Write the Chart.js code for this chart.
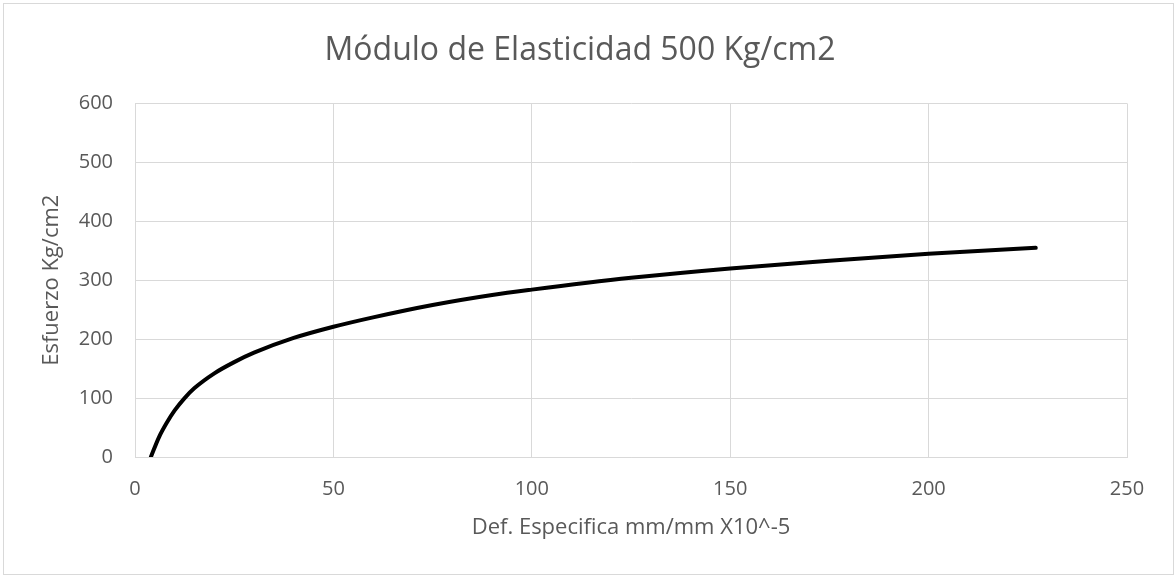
<!DOCTYPE html>
<html>
<head>
<meta charset="utf-8">
<title>Módulo de Elasticidad 500 Kg/cm2</title>
<script src="https://cdn.jsdelivr.net/npm/chart.js@4"></script>
<style>
  html, body { margin: 0; padding: 0; background: #fff; }
  #wrap { width: 1175px; height: 576px; position: relative; }
</style>
</head>
<body>
<div id="wrap"><canvas id="curva"></canvas></div>
<script>
// valores
const defEspecifica = [4, 6, 8, 10, 12.5, 15, 20, 25, 30, 40, 50, 60, 75, 90, 100, 125, 150, 175, 200, 227];
const esfuerzo = [0, 33, 58, 79, 100, 117, 142, 161, 177, 202, 221, 237, 258, 275, 284, 304, 320, 333, 345, 355];
const xTicks = [0, 50, 100, 150, 200, 250];
const yTicks = [0, 100, 200, 300, 400, 500, 600];

const gris = '#595959';
const rejilla = '#d9d9d9';
const fuente = "'Open Sans', sans-serif";

const puntos = defEspecifica.map((x, i) => ({ x: x, y: esfuerzo[i] }));

const marco = {
    id: 'marco',
    beforeDraw(chart) {
        const c = chart.ctx;
        c.save();
        c.fillStyle = '#fff';
        c.fillRect(0, 0, chart.width, chart.height);
        c.strokeStyle = rejilla;
        c.lineWidth = 1;
        c.strokeRect(3.5, 3.5, 1170, 571);
        c.restore();
    }
};

const ctx = document.getElementById('curva').getContext('2d');
const chart = new Chart(ctx, {
    type: 'scatter',
    data: {
        datasets: [{
            label: 'Esfuerzo',
            data: puntos,
            showLine: true,
            borderColor: '#000',
            borderWidth: 4,
            borderCapStyle: 'round',
            pointRadius: 0,
            cubicInterpolationMode: 'monotone'
        }]
    },
    options: {
        responsive: true,
        maintainAspectRatio: false,
        animation: false,
        layout: { padding: { left: 33, right: 48, top: 0, bottom: 0 } },
        plugins: {
            legend: { display: false },
            tooltip: { enabled: false },
            title: {
                display: true,
                text: 'Módulo de Elasticidad 500 Kg/cm2',
                color: gris,
                font: { family: fuente, size: 32, weight: 'normal', lineHeight: 1.2 },
                padding: { top: 32, bottom: 33 }
            }
        },
        scales: {
            x: {
                type: 'linear',
                min: xTicks[0],
                max: xTicks[xTicks.length - 1],
                afterBuildTicks: (s) => { s.ticks = xTicks.map(v => ({ value: v })); },
                afterFit: (s) => { s.height = 119; },
                grid: { color: rejilla, drawTicks: false },
                border: { color: rejilla },
                ticks: { color: gris, padding: 20, font: { family: fuente, size: 20 } },
                title: {
                    display: true,
                    text: 'Def. Especifica mm/mm X10^-5',
                    color: gris,
                    font: { family: fuente, size: 22 },
                    padding: { top: 0, bottom: 35 }
                }
            },
            y: {
                type: 'linear',
                min: yTicks[0],
                max: yTicks[yTicks.length - 1],
                afterBuildTicks: (s) => { s.ticks = yTicks.map(v => ({ value: v })); },
                afterFit: (s) => { s.width = 102; },
                grid: { color: rejilla, drawTicks: false },
                border: { color: rejilla },
                ticks: { color: gris, padding: 22, font: { family: fuente, size: 20 } },
                title: {
                    display: true,
                    text: 'Esfuerzo Kg/cm2',
                    color: gris,
                    font: { family: fuente, size: 22 },
                    padding: { top: 6, bottom: 0 }
                }
            }
        }
    },
    plugins: [marco]
});
</script>
</body>
</html>
